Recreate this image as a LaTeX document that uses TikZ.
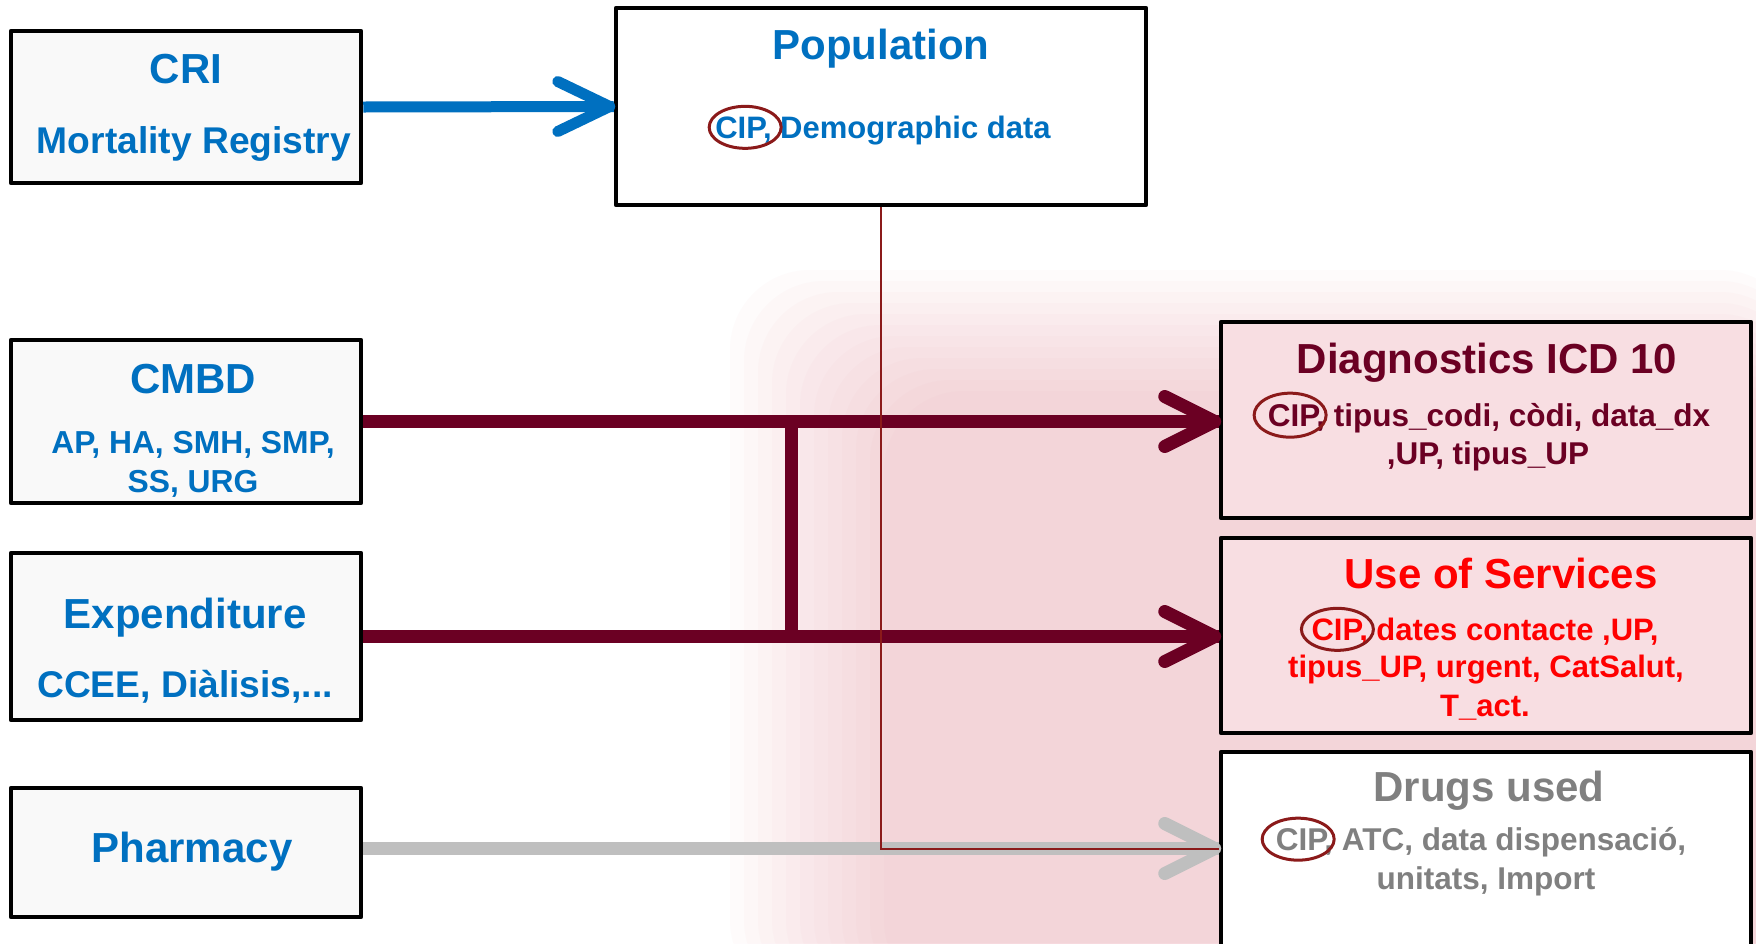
\documentclass[tikz,border=0pt]{standalone}
\usepackage{fontspec}
\setmainfont{Liberation Sans}
\usetikzlibrary{calc}
\newcommand\fsz[1]{\fontsize{#1}{#1}\selectfont}
\definecolor{cblue}{HTML}{0070C0}
\definecolor{cmaroon}{HTML}{6B0023}
\definecolor{ctitle}{HTML}{6B0023}
\definecolor{cred}{HTML}{FF0000}
\definecolor{cgray}{HTML}{808080}
\definecolor{cgrayarrow}{HTML}{BFBFBF}
\definecolor{cring}{HTML}{8B1A1A}
\definecolor{wmpink}{HTML}{EAA3AE}
\definecolor{boxpink}{HTML}{F8DEE2}
\definecolor{boxgray}{HTML}{F9F9F9}
\begin{document}
\begin{tikzpicture}[x=0.5pt,y=-0.5pt,
  frame/.style={draw=black,line width=2.25pt,inner sep=0pt,line join=round},
  leftbox/.style={frame,fill=boxgray,minimum width=175pt},
  rightbox/.style={frame,minimum width=265pt},
  txt/.style={inner sep=0pt,anchor=base,font=\bfseries\fsz{#1}},
  ttl/.style={txt=21},
  cipbox/.style={inner sep=0pt,anchor=base west,font=\bfseries\fsz{#1}},
  ring/.style={draw=cring,line width=1.5pt},
  bluearrow/.style={draw=cblue,line width=5.5pt},
  maroonarrow/.style={draw=cmaroon,line width=6.5pt},
  grayarrow/.style={draw=cgrayarrow,line width=6.5pt},
  chevron/.style={line cap=round,line join=round},
  thinline/.style={draw=cring,line width=1pt},
  wm/.style={fill=wmpink,opacity=0.045,rounded corners=40pt}]
\useasboundingbox (0,0) rectangle (1756,943);
\clip (0,0) rectangle (1756,943);
\fill[white] (0,0) rectangle (1756,943);
% faint watermark (soft-edged, built from stacked translucent layers)
\foreach \k in {0,...,11}{
  \fill[wm] (730+\k*14,270+\k*11) rectangle (1800,1000);
}
% boxes
\node[leftbox,minimum height=76pt] (cri) at (186,107) {};
\node[rightbox,fill=white,minimum height=98.5pt] (pop) at (881,106.5) {};
\node[leftbox,minimum height=81.5pt] (cmbd) at (186,421.5) {};
\node[leftbox,minimum height=83.5pt] (exp) at (186,636.5) {};
\node[leftbox,minimum height=64.5pt] (pharm) at (186,852.5) {};
\node[rightbox,fill=boxpink,minimum height=98pt] (diag) at (1486,420) {};
\node[rightbox,fill=boxpink,minimum height=97.5pt] (use) at (1486,635.5) {};
\node[rightbox,fill=white,minimum height=110pt] (drugs) at (1486,862) {};
% connectors
\draw[bluearrow] (cri.east) -- (pop.west);
\draw[bluearrow,chevron] ($(pop.west)+(-56,-25)$) -- ($(pop.west)+(-4,0)$) -- ($(pop.west)+(-56,25)$);
\draw[maroonarrow] (cmbd.east) -- (cmbd.east -| diag.west);
\draw[maroonarrow,chevron] ($(cmbd.east -| diag.west)+(-54,-25)$) -- ($(cmbd.east -| diag.west)+(-4,0)$) -- ($(cmbd.east -| diag.west)+(-54,25)$);
\draw[maroonarrow] (exp.east) -- (exp.east -| use.west);
\draw[maroonarrow,chevron] ($(exp.east -| use.west)+(-54,-25)$) -- ($(exp.east -| use.west)+(-4,0)$) -- ($(exp.east -| use.west)+(-54,25)$);
\draw[maroonarrow,line cap=rect] ($(cmbd.east)!.5!(cmbd.east -| diag.west)$) -- ($(exp.east)!.5!(exp.east -| use.west)$);
\draw[grayarrow] ([yshift=2pt]pharm.east) -- ([yshift=2pt]pharm.east -| drugs.west);
\draw[grayarrow,chevron] ($([yshift=2pt]pharm.east -| drugs.west)+(-54,-25)$) -- ($([yshift=2pt]pharm.east -| drugs.west)+(-4,0)$) -- ($([yshift=2pt]pharm.east -| drugs.west)+(-54,25)$);
\draw[thinline] (pop.south) |- ([yshift=2pt]pharm.east -| drugs.west);
% texts left
\node[ttl,text=cblue] (tcri) at (186,83) {CRI};
\node[txt=18.6,text=cblue] (scri) at (194,153) {Mortality Registry};
\node[ttl,text=cblue] (tcmbd) at (193,393) {CMBD};
\node[txt=15.9,text=cblue] (scmbd1) at (193,453) {AP, HA, SMH, SMP,};
\node[txt=15.9,text=cblue] (scmbd2) at (193,492) {SS, URG};
\node[ttl,text=cblue] (texp) at (185,628) {Expenditure};
\node[txt=18.6,text=cblue] (sexp) at (185,697) {CCEE, Diàlisis,...};
\node[ttl,text=cblue] (tph) at (192,862) {Pharmacy};
% population
\node[ttl,text=cblue] (tpop) at (881,59) {Population};
\node[txt=15.5,text=cblue] (spop) at (883,138) {CIP, Demographic data};
\node[cipbox=15.5] (cpop) at (spop.base west) {\phantom{CIP}};
\draw[ring] ([xshift=2pt]cpop.center) ellipse [x radius=18pt,y radius=10.5pt];
% diagnostics
\node[ttl,text=ctitle] (tdiag) at (1487,373) {Diagnostics ICD 10};
\node[txt=15.75,text=ctitle] (sdiag1) at (1489,426) {CIP, tipus\_codi, còdi, data\_dx};
\node[txt=15.75,text=ctitle] (sdiag2) at (1488,464) {,UP, tipus\_UP};
\node[cipbox=15.75] (cdiag) at (sdiag1.base west) {\phantom{CIP}};
\draw[ring] ([xshift=-2pt]cdiag.center) ellipse [x radius=18pt,y radius=11pt];
% use of services
\node[ttl,text=cred] (tuse) at (1501,588) {Use of Services};
\node[txt=15.5,text=cred] (suse1) at (1485,640) {CIP, dates contacte ,UP,};
\node[txt=15.5,text=cred] (suse2) at (1486,677) {tipus\_UP, urgent, CatSalut,};
\node[txt=15.5,text=cred] (suse3) at (1485,716) {T\_act.};
\node[cipbox=15.5] (cuse) at (suse1.base west) {\phantom{CIP}};
\draw[ring] (cuse.center) ellipse [x radius=18pt,y radius=10.5pt];
% drugs
\node[ttl,text=cgray] (tdrugs) at (1489,801) {Drugs used};
\node[txt=15.75,text=cgray] (sdrugs1) at (1481,850) {CIP, ATC, data dispensació,};
\node[txt=15.75,text=cgray] (sdrugs2) at (1486,889) {unitats, Import};
\node[cipbox=15.75] (cdrugs) at (sdrugs1.base west) {\phantom{CIP}};
\draw[ring] ([xshift=-2pt]cdrugs.center) ellipse [x radius=18pt,y radius=10.5pt];
\end{tikzpicture}
\end{document}
